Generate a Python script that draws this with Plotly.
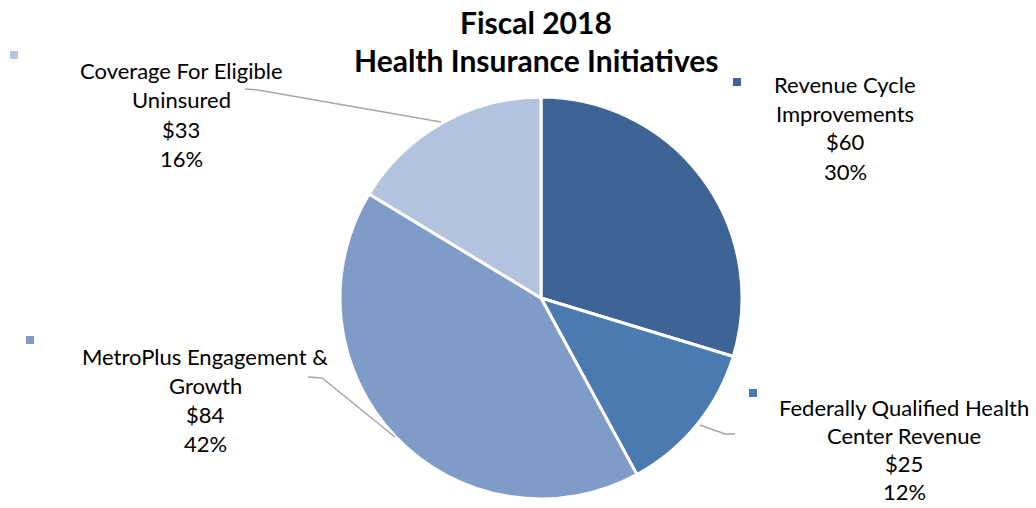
import plotly.graph_objects as go

categories = ["Revenue Cycle Improvements", "Federally Qualified Health Center Revenue",
              "MetroPlus Engagement & Growth", "Coverage For Eligible Uninsured"]
values = [60, 25, 84, 33]
label_lines = [["Revenue Cycle", "Improvements"],
               ["Federally Qualified Health", "Center Revenue"],
               ["MetroPlus Engagement &", "Growth"],
               ["Coverage For Eligible", "Uninsured"]]
colors = ["#3E6496", "#4A7AB0", "#7F9CC8", "#B4C3DE"]
title_lines = ["Fiscal 2018", "Health Insurance Initiatives"]

W, H = 1036, 508
FONT = "Lato"

def px(x):
    return x / W

def py(y):
    return 1 - y / H

total = sum(values)
pcts = [round(v / total * 100) for v in values]

fig = go.Figure(go.Pie(
    labels=categories, values=values, sort=False, direction="clockwise",
    rotation=0, marker=dict(colors=colors, line=dict(color="white", width=3)),
    textinfo="none", hoverinfo="label+value+percent",
    domain=dict(x=[px(340), px(742)], y=[py(499), py(97)]),
    showlegend=False,
))

# label layout (pixel anchors): text center x, first line y, line gap, marker square position
label_pos = [
    dict(cx=845, y0=84, gap=29, sq=(737, 82)),
    dict(cx=904, y0=407, gap=28, sq=(753, 393)),
    dict(cx=205, y0=356, gap=29, sq=(30, 340)),
    dict(cx=181, y0=71, gap=29, sq=(14, 55)),
]

annotations = []
shapes = []
for i, pos in enumerate(label_pos):
    lines = label_lines[i] + [f"${values[i]}", f"{pcts[i]}%"]
    for k, t in enumerate(lines):
        annotations.append(dict(
            x=px(pos["cx"]), y=py(pos["y0"] + k * pos["gap"]), xref="paper", yref="paper",
            text=t, showarrow=False, xanchor="center", yanchor="middle", borderpad=0,
            font=dict(family=FONT, size=22, color="#000000")))
    sx, sy = pos["sq"]
    shapes.append(dict(type="rect", xref="paper", yref="paper",
                       x0=px(sx - 4), x1=px(sx + 4), y0=py(sy + 4), y1=py(sy - 4),
                       fillcolor=colors[i], line=dict(width=0)))

# leader lines
leaders = [
    [(245, 89), (258, 90), (441, 122)],
    [(308, 377), (322, 378), (395, 437)],
    [(700, 425), (725, 434), (735, 434)],
]
for pts in leaders:
    path = "M " + " L ".join(f"{px(x)},{py(y)}" for x, y in pts)
    shapes.append(dict(type="path", xref="paper", yref="paper", path=path,
                       line=dict(color="#A6A6A6", width=1.5)))

for k, t in enumerate(title_lines):
    annotations.append(dict(
        x=px(536), y=py(22 + k * 38), xref="paper", yref="paper",
        text=f"<b>{t}</b>", showarrow=False, xanchor="center", yanchor="middle",
        font=dict(family=FONT, size=30, color="#000000")))

fig.update_layout(
    width=W, height=H, margin=dict(l=0, r=0, t=0, b=0),
    paper_bgcolor="white", plot_bgcolor="white",
    annotations=annotations, shapes=shapes,
)

fig.write_html("out.html")
